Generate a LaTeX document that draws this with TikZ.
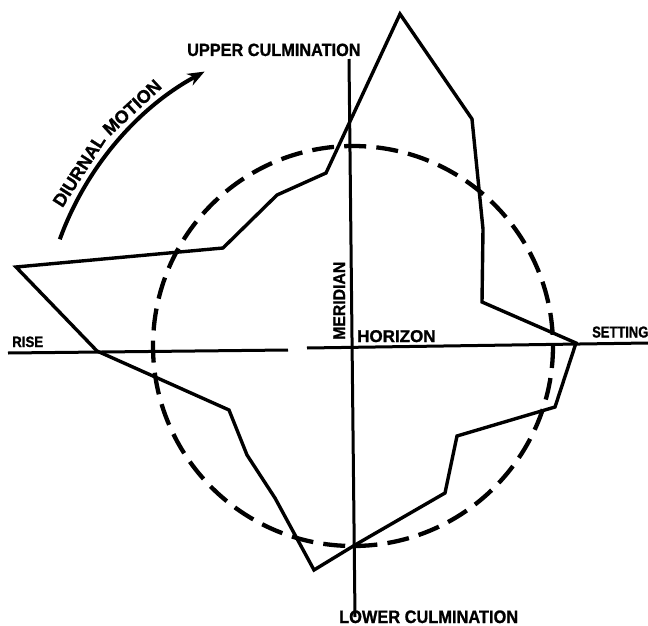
\documentclass[tikz,border=0pt]{standalone}
\usepackage{fontspec}
\setmainfont{Liberation Sans}
\newfontfamily\lblfont[FakeBold=1.2]{Liberation Sans Bold}
\usetikzlibrary{calc,arrows.meta}
\begin{document}
\begin{tikzpicture}[x=1pt,y=-1pt,
  solidline/.style={line width=3pt},
  poly/.style={line width=3.4pt, line join=miter},
  dashcircle/.style={line width=4.3pt, dash pattern=on 22pt off 10.2pt},
  lbl/.style={inner sep=0pt, anchor=base west},
  arclbl/.style={inner sep=0pt, anchor=base, font=\fontsize{18}{18}\lblfont},
]
\useasboundingbox (0,0) rectangle (648,626);
\coordinate (C) at (353,346);
% meridian
\coordinate (mt) at (349,59);
\coordinate (mb) at (355,617);
\draw[solidline] (mt) -- (mb);
% horizon (with a small gap)
\coordinate (hl) at (8,353);
\coordinate (hg1) at (288,350);
\coordinate (hg2) at (307,348);
\coordinate (hr) at (648,343);
\draw[solidline] (hl) -- (hg1);
\draw[solidline] (hg2) -- (hr);
% dashed circle
\draw[dashcircle] (C) circle[radius=200];
% star path
\coordinate (p1) at (400,14);
\coordinate (p2) at (472,119);
\coordinate (p3) at (483,229);
\coordinate (p4) at (482,302);
\coordinate (p5) at (576,343);
\coordinate (p6) at (555,407);
\coordinate (p7) at (457,436);
\coordinate (p8) at (445,493);
\coordinate (p9) at (355,545);
\coordinate (p10) at (314,570);
\coordinate (p11) at (275,498);
\coordinate (p12) at (247,455);
\coordinate (p13) at (229,410);
\coordinate (p14) at (97,351);
\coordinate (p15) at (16,267);
\coordinate (p16) at (223,248);
\coordinate (p17) at (277,195);
\coordinate (p18) at (326,173);
\draw[poly] (p1) -- (p2) -- (p3) -- (p4) -- (p5) -- (p6) -- (p7) -- (p8) -- (p9)
  -- (p10) -- (p11) -- (p12) -- (p13) -- (p14) -- (p15) -- (p16) -- (p17) -- (p18) -- cycle;
% diurnal motion arrow
\draw[line width=4pt, -{Stealth[length=17pt,width=13pt]}]
  ($(C)+(-160:312)$) arc[start angle=-160, end angle=-118.4, radius=312];
\node[arclbl, rotate=57.4] (diurnal) at ($(C)+(-147.4:319)$) {DIURNAL};
\node[arclbl, rotate=42.8] (motion) at ($(C)+(-132.8:319)$) {MOTION};
% labels
\node[lbl] (upper) at (187,56) {\fontsize{17.7}{18}\lblfont\scalebox{0.92}[1]{UPPER CULMINATION}};
\node[lbl] (lower) at (339,623) {\fontsize{18}{18}\lblfont\scalebox{0.91}[1]{LOWER CULMINATION}};
\node[lbl] (rise) at (12,347) {\fontsize{15}{15}\lblfont\scalebox{0.886}[1]{RISE}};
\node[lbl] (horizon) at (357,342) {\fontsize{17}{17}\lblfont HORIZON};
\node[lbl] (setting) at (592,337.5) {\fontsize{15.8}{16}\lblfont\scalebox{0.82}[1]{SETTING}};
\node[lbl, rotate=90] (meridian) at (345,340) {\fontsize{16.8}{17}\lblfont\scalebox{0.94}[1]{MERIDIAN}};
\end{tikzpicture}
\end{document}
